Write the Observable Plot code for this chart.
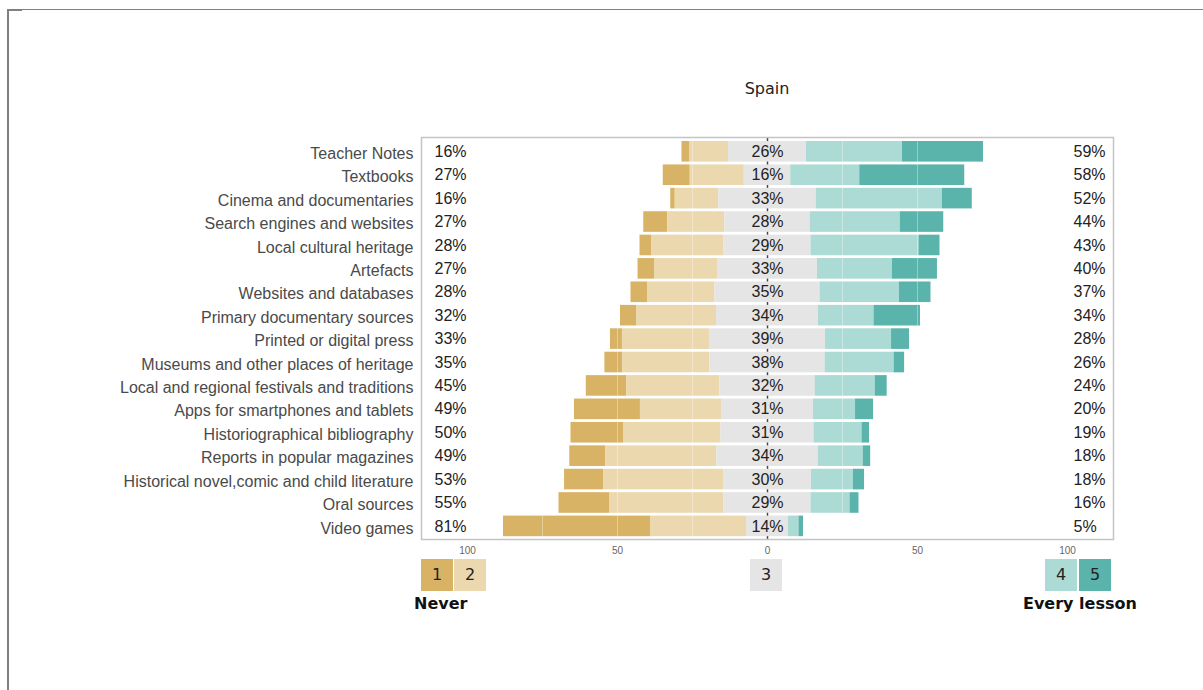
<!DOCTYPE html>
<html>
<head>
<meta charset="utf-8">
<script src="https://cdn.jsdelivr.net/npm/d3@7"></script>
<script src="https://cdn.jsdelivr.net/npm/@observablehq/plot@0.6"></script>
<style>
  body { margin: 0; background: #fff; }
  #wrap { position: relative; width: 1203px; height: 690px; overflow: hidden; }
  .abs { position: absolute; }
  .box { position: absolute; width: 32px; height: 32px; font: 16px "DejaVu Sans", sans-serif; color: #222; text-align: center; line-height: 32px; }
  .lab { position: absolute; font: bold 16px "DejaVu Sans", sans-serif; color: #111; line-height: 20px; white-space: nowrap; }
</style>
</head>
<body>
<div id="wrap">
  <div class="abs" style="left:7px;top:9px;width:1196px;height:681px;border-top:1px solid #808080;border-left:2px solid #808080;box-sizing:border-box;"></div>
  <div class="abs" style="left:7px;top:9px;width:15px;height:2px;background:#808080;"></div>
  <div class="abs" style="left:667px;top:79px;width:200px;text-align:center;font:16px 'DejaVu Sans',sans-serif;color:#222;line-height:20px;">Spain</div>
  <div id="chart" class="abs" style="left:0;top:0;"></div>
  <div id="legend"></div>
</div>
<script>
const categories = [
  "Teacher Notes", "Textbooks", "Cinema and documentaries", "Search engines and websites",
  "Local cultural heritage", "Artefacts", "Websites and databases", "Primary documentary sources",
  "Printed or digital press", "Museums and other places of heritage",
  "Local and regional festivals and traditions", "Apps for smartphones and tablets",
  "Historiographical bibliography", "Reports in popular magazines",
  "Historical novel,comic and child literature", "Oral sources", "Video games"
];
// Share of answers per level (1 = Never ... 5 = Every lesson)
const level1 = [2.5, 9, 1.5, 8, 4, 5.5, 5.5, 5.5, 4, 6, 13.5, 22, 17.5, 12, 13, 17, 49];
const level2 = [13, 18, 14.5, 19, 24, 21, 22.5, 26.5, 29, 29, 31, 27, 32.5, 37, 40, 38, 32];
const level3 = [26, 15.5, 32.5, 28.5, 29, 33.3, 35, 34, 38.7, 38.4, 31.8, 30.7, 31, 33.8, 29.3, 29, 14];
const level4 = [32, 23, 42, 30, 36, 25, 26.5, 18.5, 22, 23, 20, 14, 16, 15, 14, 13, 3.5];
const level5 = [27, 35, 10, 14.5, 7, 15, 10.5, 15.5, 6, 3.5, 4, 6, 2.5, 2.5, 3.7, 3, 1.5];
// Printed percentage labels
const pctLow  = [16, 27, 16, 27, 28, 27, 28, 32, 33, 35, 45, 49, 50, 49, 53, 55, 81];
const pctMid  = [26, 16, 33, 28, 29, 33, 35, 34, 39, 38, 32, 31, 31, 34, 30, 29, 14];
const pctHigh = [59, 58, 52, 44, 43, 40, 37, 34, 28, 26, 24, 20, 19, 18, 18, 16, 5];
const levels = ["1", "2", "3", "4", "5"];
const levelColors = ["#d8b365", "#ebd8ae", "#e5e5e5", "#acdad5", "#5ab4ac"];
const xTicks = [-100, -50, 0, 50, 100];
const gridValues = [-100, -75, -50, -25, 25, 50, 75, 100];

const segments = [];
categories.forEach((c, i) => {
  const h3 = level3[i] / 2;
  segments.push({cat: c, level: "1", x1: -(h3 + level2[i] + level1[i]), x2: -(h3 + level2[i])});
  segments.push({cat: c, level: "2", x1: -(h3 + level2[i]), x2: -h3});
  segments.push({cat: c, level: "3", x1: -h3, x2: h3});
  segments.push({cat: c, level: "4", x1: h3, x2: h3 + level4[i]});
  segments.push({cat: c, level: "5", x1: h3 + level4[i], x2: h3 + level4[i] + level5[i]});
});
const labels = categories.map((c, i) => ({cat: c, low: pctLow[i] + "%", mid: pctMid[i] + "%", high: pctHigh[i] + "%"}));

const H = 570;
const chart = Plot.plot({
  width: 1203,
  height: H,
  marginLeft: 421,
  marginRight: 90,
  marginTop: 137,
  marginBottom: H - 539,
  style: {fontFamily: "'Liberation Sans', Arial, sans-serif", fontSize: "10px", color: "#666", background: "transparent", overflow: "visible"},
  x: {domain: [-115.33, 115.33], ticks: xTicks, tickFormat: d => Math.abs(d), tickSize: 0, tickPadding: 7, label: null},
  y: {domain: categories, range: [139.6, 537.6], paddingInner: 0.12, paddingOuter: 0.06, round: false, axis: null},
  color: {domain: levels, range: levelColors},
  marks: [
    Plot.ruleX([0], {stroke: "#444", strokeWidth: 1.5}),
    Plot.barX(segments, {y: "cat", x1: "x1", x2: "x2", fill: "level"}),
    Plot.ruleX(gridValues, {stroke: "white", strokeOpacity: 0.35, strokeWidth: 1}),
    Plot.frame({stroke: "#c4c4c4", strokeWidth: 1.5}),
    Plot.text(labels, {y: "cat", x: -111, text: "low", textAnchor: "start", fontSize: 16, fill: "#222"}),
    Plot.text(labels, {y: "cat", x: 0, text: "mid", textAnchor: "middle", fontSize: 16, fill: "#222"}),
    Plot.text(labels, {y: "cat", x: 102, text: "high", textAnchor: "start", fontSize: 16, fill: "#222"}),
    Plot.text(labels, {y: "cat", text: "cat", frameAnchor: "left", textAnchor: "end", dx: -8, dy: 2, fontSize: 16, fill: "#4a4a4a"})
  ]
});
document.getElementById("chart").appendChild(chart);

// Legend
const legend = document.getElementById("legend");
const boxLeft = [421, 454, 750, 1045, 1079];
levels.forEach((l, i) => {
  const b = document.createElement("div");
  b.className = "box";
  b.style.left = boxLeft[i] + "px";
  b.style.top = "559px";
  b.style.background = levelColors[i];
  b.textContent = l;
  legend.appendChild(b);
});
const legendText = [["Never", 414], ["Every lesson", 1023]];
legendText.forEach(([t, x]) => {
  const d = document.createElement("div");
  d.className = "lab";
  d.style.left = x + "px";
  d.style.top = "594px";
  d.textContent = t;
  legend.appendChild(d);
});
</script>
</body>
</html>
